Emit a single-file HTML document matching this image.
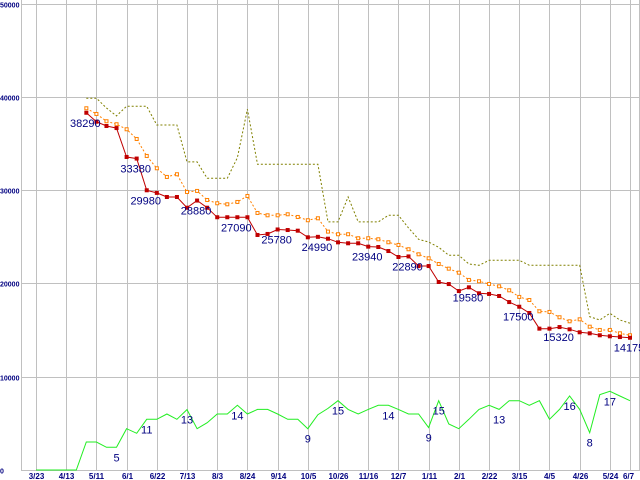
<!DOCTYPE html>
<html><head><meta charset="utf-8"><style>
html,body{margin:0;padding:0;background:#fff;}
svg{display:block;font-family:"Liberation Sans",sans-serif;}
</style></head><body>
<svg id="chart" width="640" height="480" viewBox="0 0 640 480" xmlns="http://www.w3.org/2000/svg">
<g id="grid"></g>
<g id="series"></g>
<g id="labels"></g>
</svg>
<script>
const xTickLabels=["3/23","4/13","5/11","6/1","6/22","7/13","8/3","8/24","9/14","10/5","10/26","11/16","12/7","1/11","2/1","2/22","3/15","4/5","4/26","5/24"];
const lastTickLabel="6/7";
const yTicks=[0,10000,20000,30000,40000,50000];
const startIdx=5;
const redValues=[38290,37330,36870,36650,33550,33380,29980,29700,29260,29260,28110,28880,28110,27090,27090,27090,27090,25190,25300,25780,25720,25650,24940,24990,24790,24400,24300,24300,23940,23900,23470,22830,22890,21860,21860,20150,19930,19180,19580,18940,18870,18650,18000,17500,16830,15150,15150,15320,15080,14760,14650,14440,14330,14250,14175];
const orangeValues=[38770,38160,37380,37060,36520,35480,33660,32340,31410,31700,29800,29910,28940,28590,28480,28730,29370,27550,27300,27300,27410,27120,26770,26980,25550,25270,25270,24840,24840,24730,24410,24120,23660,23120,22690,22080,21580,21150,20370,20230,19940,19690,19260,18550,18220,17010,16940,16370,15940,16150,15360,15010,15010,14650,14440];
const oliveValues=[39850,39850,38800,37950,38990,38990,38990,36980,36980,36980,33020,33020,31270,31270,31270,33480,38670,32770,32770,32770,32770,32770,32770,32770,26590,26590,29270,26590,26590,26590,27300,27300,25950,24730,24440,23870,23010,23010,22080,21940,22480,22480,22480,22480,21940,21940,21940,21940,21940,21940,16430,16080,16800,16080,15730];
const greenValues=[0,0,0,0,0,3000,3000,2430,2430,4430,3930,5430,5430,6000,5430,6470,4430,5070,6000,6000,6930,6000,6500,6500,6000,5430,5430,4430,5930,6600,7430,6500,6000,6500,6930,6930,6500,6000,6000,4540,7430,4930,4430,5430,6500,6930,6500,7430,7430,6930,7430,5430,6500,7930,6500,4000,8070,8430,7930,7430];
const redLabelIdx=[5,10,11,16,20,24,28,33,37,43,48,52,59];
const greenLabelIdx=[8,11,15,20,27,30,35,39,40,46,53,55,57];
const greenLabelText=["5","11","13","14","9","15","14","9","15","13","16","8","17"];

const NS="http://www.w3.org/2000/svg";
const X=i=>36+i*(594/59);
const Y=v=>470-v*(466.5/50000);
function mk(parent,tag,attrs,name){const e=document.createElementNS(NS,tag);for(const k in attrs)e.setAttribute(k,attrs[k]);


parent.appendChild(e);return e;}
const grid=document.getElementById('grid'),ser=document.getElementById('series'),lab=document.getElementById('labels');
mk(grid,'line',{x1:21.5,y1:0,x2:21.5,y2:471,stroke:'#c0c0c0'},'y-axis-line');
mk(grid,'line',{x1:639.5,y1:0,x2:639.5,y2:471,stroke:'#c0c0c0'},'right-border');
yTicks.forEach(v=>{const y=Math.round(Y(v))+0.5;
 mk(grid,'line',{x1:21,y1:y,x2:640,y2:y,stroke:'#c0c0c0'},'h-gridline');
 const t=mk(grid,'text',{x:0,y:y+3,'font-size':7,'font-weight':'bold',fill:'#000080'},'y-tick-label');t.textContent=String(v);});
xTickLabels.forEach((s,k)=>{const x=Math.round(X(k*3))+0.5;
 mk(grid,'line',{x1:x,y1:0,x2:x,y2:471,stroke:'#c0c0c0'},'v-gridline');
 const t=mk(grid,'text',{x:x,y:479,'font-size':8,'font-weight':'bold',fill:'#000080','text-anchor':'middle'},'x-tick-label');t.textContent=s;});
{const x=Math.round(X(59))+0.5;mk(grid,'line',{x1:x,y1:0,x2:x,y2:471,stroke:'#c0c0c0'},'v-gridline');
 const t=mk(grid,'text',{x:x-2,y:479,'font-size':8,'font-weight':'bold',fill:'#000080','text-anchor':'middle'},'x-tick-label');t.textContent=lastTickLabel;}
function pts(vals,off){return vals.map((v,j)=>X(j+off).toFixed(1)+','+Y(v).toFixed(1)).join(' ');}
mk(ser,'polyline',{points:pts(greenValues,0),fill:'none',stroke:'#22ee22','stroke-width':1},'count-line');
mk(ser,'polyline',{points:pts(oliveValues,startIdx),fill:'none',stroke:'#808000','stroke-width':1,'stroke-dasharray':'2,2'},'high-price-line');
mk(ser,'polyline',{points:pts(orangeValues,startIdx),fill:'none',stroke:'#ff8000','stroke-width':1,'stroke-dasharray':'2,2'},'average-price-line');
orangeValues.forEach((v,j)=>mk(ser,'rect',{x:X(j+startIdx)-1.5,y:Y(v)-1.5,width:3,height:3,fill:'#fff',stroke:'#ff8000','stroke-width':1},'average-point'));
mk(ser,'polyline',{points:pts(redValues,startIdx),fill:'none',stroke:'#c00000','stroke-width':1},'low-price-line');
redValues.forEach((v,j)=>mk(ser,'rect',{x:X(j+startIdx)-2,y:Y(v)-2,width:4,height:4,fill:'#c00000'},'low-point'));
redLabelIdx.forEach(i=>{const v=redValues[i-startIdx];const t=mk(lab,'text',{x:X(i)-1,y:Y(v)+14,'font-size':11,fill:'#000080','text-anchor':'middle'},'price-label');t.textContent=String(v);});
greenLabelIdx.forEach((i,k)=>{const v=greenValues[i];const t=mk(lab,'text',{x:X(i),y:Y(v)+14,'font-size':11,fill:'#000080','text-anchor':'middle'},'count-label');t.textContent=greenLabelText[k];});
</script>
</body></html>
